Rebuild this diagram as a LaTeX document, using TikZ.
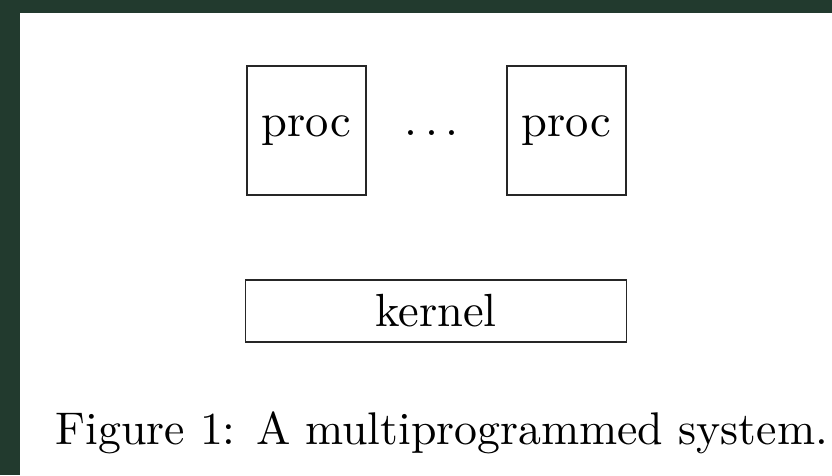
\documentclass[tikz,border=0pt]{standalone}
\usepackage{fontspec}
\setmainfont{lmroman10-regular.otf}
\definecolor{framegreen}{RGB}{34,58,46}
\tikzset{
  box/.style={draw=black!85, line width=1.3pt, inner sep=0pt, outer sep=0pt, font=\fontsize{46.5}{56}\selectfont},
  lbl/.style={inner sep=0pt, outer sep=0pt, font=\fontsize{46.5}{56}\selectfont},
  caplbl/.style={inner sep=0pt, outer sep=0pt, font=\fontsize{45.8}{55}\selectfont}
}
\begin{document}
\begin{tikzpicture}[x=1pt,y=-1pt]
\useasboundingbox (0,0) rectangle (832,475);
\fill[framegreen] (0,0) rectangle (832,475);
\fill[white] (20,13) rectangle (832,475);
\node[box, minimum width=119pt, minimum height=129pt] (p1) at (306.5,130.5) {proc};
\node[box, minimum width=119pt, minimum height=129pt] (p2) at (566.5,130.5) {proc};
\node[lbl, anchor=base] (dots) at (431.7,135) {.\hspace{0.1667em}.\hspace{0.1667em}.};
\node[box, minimum width=381pt, minimum height=62pt] (kernel) at (436,311) {kernel};
\node[caplbl, anchor=base west] (cap) at (55.5,444) {Figure 1: A multiprogrammed system.};
\end{tikzpicture}
\end{document}
